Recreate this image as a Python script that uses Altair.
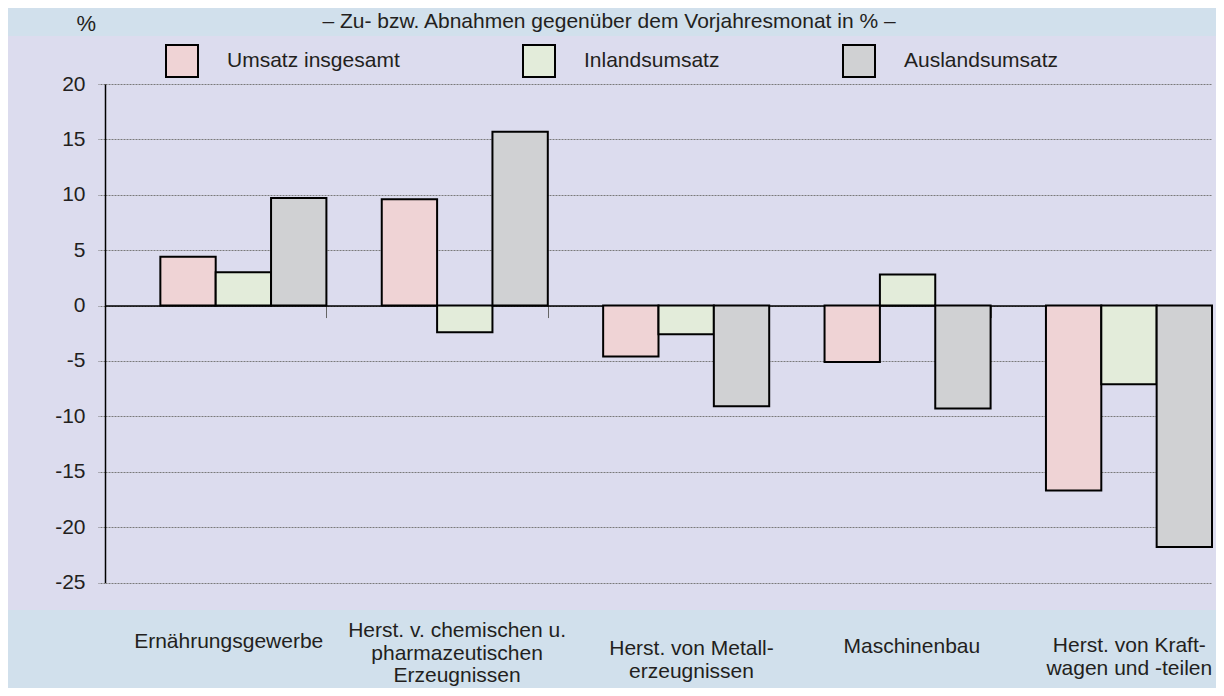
import altair as alt
import pandas as pd

# ---------------- data ----------------
categories = [
    "Ernährungsgewerbe",
    "Herst. v. chemischen u.|pharmazeutischen|Erzeugnissen",
    "Herst. von Metall-|erzeugnissen",
    "Maschinenbau",
    "Herst. von Kraft-|wagen und -teilen",
]
series = ["Umsatz insgesamt", "Inlandsumsatz", "Auslandsumsatz"]
umsatz = [4.4, 9.6, -4.6, -5.1, -16.7]
inland = [3.0, -2.4, -2.6, 2.8, -7.1]
ausland = [9.7, 15.7, -9.1, -9.3, -21.8]
y_ticks = [-25, -20, -15, -10, -5, 0, 5, 10, 15, 20]
subtitle = "– Zu- bzw. Abnahmen gegenüber dem Vorjahresmonat in % –"
unit_label = "%"

# ---------------- styles ----------------
FONT = "Liberation Sans"
TXT = "#231f20"
BLUE = "#d1e0ec"
LAVENDER = "#dcdcee"
bar_colors = ["#efd3d5", "#e3ecda", "#d0d1d3"]

W, H = 1107, 498.5
PAD = {"left": 97, "top": 76, "right": 4, "bottom": 105.5}

# label placement tweaks per category (px)
label_dx = [13, 20, 33, 32, 28]
label_pad = [48, 37, 55, 52.5, 52]

rows = []
for i, c in enumerate(categories):
    for s, vals in zip(series, [umsatz, inland, ausland]):
        rows.append({"Branche": c, "Reihe": s, "Wert": vals[i]})
df = pd.DataFrame(rows)


def cond(values):
    return {
        "condition": [
            {"test": f"datum.value === '{c}'", "value": v}
            for c, v in zip(categories, values)
        ],
        "value": values[0],
    }


x_scale = alt.Scale(domain=categories, paddingInner=0, paddingOuter=0)
one = pd.DataFrame({"k": [0]})

# blue strips outside the lavender panel (decoration)
top_strip = alt.Chart(one).mark_rect(color=BLUE).encode(
    x=alt.value(-PAD["left"]), x2=alt.value(W + PAD["right"]),
    y=alt.value(-PAD["top"]), y2=alt.value(-48),
)
bottom_strip = alt.Chart(one).mark_rect(color=BLUE).encode(
    x=alt.value(-PAD["left"]), x2=alt.value(W + PAD["right"]),
    y=alt.value(526), y2=alt.value(H + PAD["bottom"]),
)

bars = alt.Chart(df).mark_bar(stroke="black", strokeWidth=2).encode(
    x=alt.X(
        "Branche:N", sort=categories, scale=x_scale,
        axis=alt.Axis(
            orient="bottom", title=None, domain=False, ticks=False, tickSize=0,
            grid=False, labelAngle=0, labelExpr="split(datum.label, '|')",
            labelFont=FONT, labelFontSize=21, labelColor=TXT,
            labelLineHeight=22.5, labelBaseline="top", labelAlign="center",
            labelLimit=0, labelOffset=cond(label_dx), labelPadding=cond(label_pad),
            zindex=1,
        ),
    ),
    xOffset=alt.XOffset(
        "Reihe:N",
        scale=alt.Scale(domain=[" "] + series, paddingInner=0, paddingOuter=0),
    ),
    y=alt.Y(
        "Wert:Q",
        scale=alt.Scale(domain=[-25, 20], nice=False, zero=False),
        axis=alt.Axis(
            values=y_ticks, title=None, labelExpr="'' + datum.value",
            labelFont=FONT, labelFontSize=21, labelColor=TXT, labelPadding=13,
            tickSize=7, tickColor="#7a7a7a", tickDash=[2, 1],
            grid=True, gridColor="#7a7a7a", gridDash=[2, 1], gridWidth=1,
            domainColor="black", domainWidth=1.5,
        ),
    ),
    color=alt.Color(
        "Reihe:N",
        scale=alt.Scale(domain=series, range=bar_colors),
        legend=alt.Legend(
            orient="none", legendX=60, legendY=-40, direction="horizontal",
            title=None, symbolType="square", symbolSize=1024,
            symbolStrokeColor="black", symbolStrokeWidth=2, symbolOpacity=1,
            labelFont=FONT, labelFontSize=21, labelColor=TXT, labelOffset=28,
            columnPadding=119, padding=0, labelLimit=0,
        ),
    ),
)

zero_axis = alt.Chart(df).mark_tick(opacity=0).encode(
    x=alt.X(
        "Branche:N", sort=categories, scale=x_scale,
        axis=alt.Axis(
            orient="bottom", offset=-(H - H * 20 / 45), title=None, labels=False,
            domain=True, domainColor="black", domainWidth=1.5,
            ticks=True, tickBand="extent", tickSize=12, tickColor="#666",
            grid=False,
        ),
    ),
)

title_txt = alt.Chart(one).mark_text(
    text=subtitle, font=FONT, fontSize=21, color=TXT, align="center",
    baseline="alphabetic",
).encode(x=alt.value(504), y=alt.value(-56))

unit_txt = alt.Chart(one).mark_text(
    text=unit_label, font=FONT, fontSize=22, color=TXT, align="center",
    baseline="alphabetic",
).encode(x=alt.value(-18.6), y=alt.value(-53))

chart = (
    alt.layer(top_strip, bottom_strip, bars, zero_axis, title_txt, unit_txt)
    .resolve_axis(x="independent")
    .properties(
        width=W, height=H,
        autosize=alt.AutoSizeParams(type="none"),
        padding=PAD,
        background=LAVENDER,
    )
    .configure_view(stroke=None)
)

chart.save("out.html", embed_options={"renderer": "svg", "actions": False})
